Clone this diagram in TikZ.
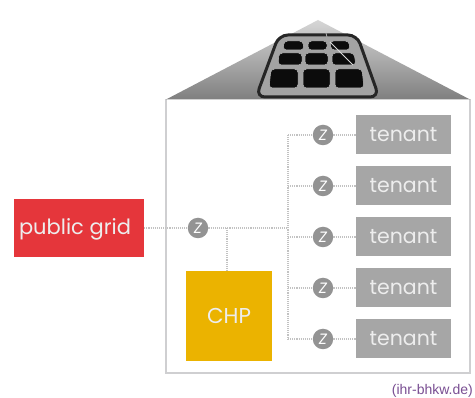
\documentclass[tikz,border=0pt]{standalone}
\usepackage{fontspec}
\setmainfont{Poppins}
\newfontfamily\creditfont{Liberation Sans}
\usetikzlibrary{calc}
\definecolor{wallgray}{HTML}{CFCFD1}
\definecolor{linkgray}{HTML}{C2C2C2}
\definecolor{metergray}{HTML}{939393}
\definecolor{tenantgray}{HTML}{A6A6A6}
\definecolor{gridred}{HTML}{E5363B}
\definecolor{chpyellow}{HTML}{EBB300}
\definecolor{creditpurple}{HTML}{7A4F93}
\definecolor{cellblack}{HTML}{0C0C0C}
\tikzset{
  tenantbox/.style={fill=tenantgray,minimum width=95pt,minimum height=39pt,inner sep=0pt,font=\fontsize{20.5}{21}\selectfont,text=white!93!black},
  meter/.style={circle,fill=metergray,minimum size=20.5pt,inner sep=0pt,font=\fontsize{15}{15}\selectfont\itshape,text=white},
  link/.style={draw=linkgray,line width=1.1pt,densely dotted},
  cell/.style={fill=cellblack,draw=white!72!black,line width=.5pt,rounded corners=3.5pt},
}
\begin{document}
\begin{tikzpicture}[x=1pt,y=-1pt]
\useasboundingbox (0,0) rectangle (475,398);
\fill[white] (0,0) rectangle (475,398);
% house
\draw[wallgray,line width=1.2pt] (166,99) -- (166,373) -- (470,373) -- (470,99);
\shade[top color=white!84!black,bottom color=white!50!black] (318,20) -- (470,99.5) -- (166,99.5) -- cycle;
% solar panel
\draw[line width=3pt,draw=black!85,fill=white!64!black,rounded corners=9pt]
  (279,35) -- (357,35) -- (379,97) -- (256,97) -- cycle;
\foreach \a/\b/\c/\d/\e/\f in {
  284/303/283/304/41/50, 308/327/308/327/41/50, 330/349/331/350/41/50,
  279/302/278/302/53/65, 305/328/305/328/53/65, 332/354/332/356/53/65,
  271/298/269/298/69/88, 303/330/303/330/69/88, 335/362/335/364/69/88}{
  \path[cell] (\a,\e) -- (\b,\e) -- (\d,\f) -- (\c,\f) -- cycle;
}
\draw[white!85!black,line width=1pt] (330,42) -- (353,65);
\draw[white!70!black,line width=.8pt] (326,33) -- (327,37);
% nodes
\node[fill=gridred,minimum width=130pt,minimum height=58pt,inner sep=0pt] (grid) at (79,228) {};
\node[text=white!93!black,inner sep=0pt,font=\fontsize{21}{21}\selectfont] (gridlabel) at (75,229) {public grid};
\node[fill=chpyellow,minimum width=86pt,minimum height=90pt,inner sep=0pt,text=white!93!black,font=\fontsize{21.5}{22}\selectfont] (chp) at (229,316) {CHP};
\node[meter] (m0) at (198,228) {Z};
\coordinate (bus) at (288,228);
\coordinate (chpj) at (227,228);
\coordinate (chpt) at (227,271);
\foreach \i/\y in {1/135,2/186,3/237,4/288,5/339}{
  \node[tenantbox] (t\i) at (403.5,\y) {tenant};
  \node[meter] (m\i) at (323,\y) {Z};
  \coordinate (b\i) at (288,\y);
}
% connectors
\draw[link] (grid.east) -- (m0.west);
\draw[link] (m0.east) -- (bus);
\draw[link] (chpj) -- (chpt);
\draw[link] (b1) -- (b5);
\foreach \i in {1,...,5}{
  \draw[link] (b\i) -- (m\i.west);
  \draw[link] (m\i.east) -- (t\i.west);
}
\node[anchor=south east,inner sep=0pt,text=creditpurple,font=\creditfont\fontsize{14}{14}\selectfont] (credit) at (473,398) {(ihr-bhkw.de)};
\end{tikzpicture}
\end{document}
